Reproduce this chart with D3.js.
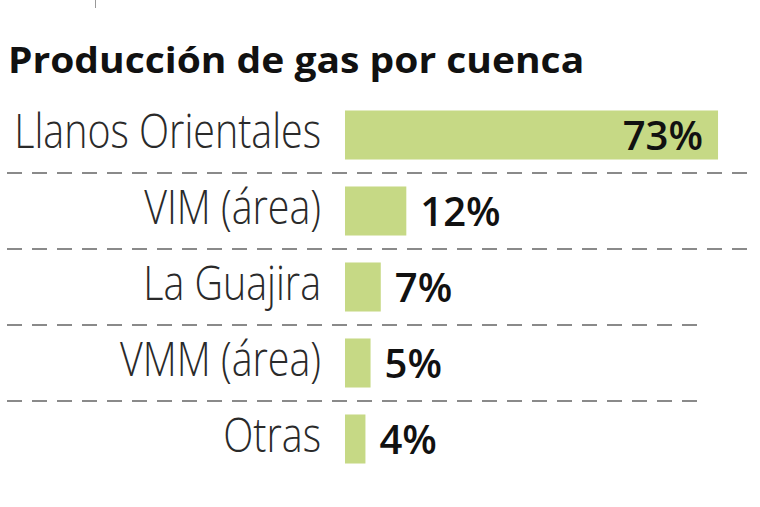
<!DOCTYPE html>
<html>
<head>
<meta charset="utf-8">
<script src="https://cdn.jsdelivr.net/npm/d3@7"></script>
<style>
  body { margin: 0; background: #fff; }
  svg { display: block; }
</style>
</head>
<body>
<svg id="chart" width="760" height="507"></svg>
<script>
const title = 'Producción de gas por cuenca';
const cuencas = ['Llanos Orientales', 'VIM (área)', 'La Guajira', 'VMM (área)', 'Otras'];
const shares = [73, 12, 7, 5, 4];

const svg = d3.select('#chart');
const barLeft = 345;

const x = d3.scaleLinear()
    .domain([0, 100])
    .range([0, 511]);

const y = d3.scaleBand()
    .domain(cuencas)
    .range([97, 477])
    .paddingInner(0.355)
    .paddingOuter(0.355 / 2);

// little tick at the top
svg.append('line')
    .attr('x1', 95.5).attr('x2', 95.5)
    .attr('y1', 0).attr('y2', 8)
    .style('stroke', '#999')
    .style('stroke-width', 1);

svg.append('text')
    .attr('transform', 'translate(8,73) scale(1.115,1)')
    .attr('font-family', 'Open Sans')
    .attr('font-weight', 700)
    .attr('font-size', 35)
    .style('fill', '#111')
    .text(title);

const rows = d3.range(cuencas.length).map(i => ({ name: cuencas[i], value: shares[i] }));

// dashed separators
const step = y.step();
svg.selectAll('.sep')
    .data(rows.slice(0, -1))
    .enter()
    .append('line')
    .attr('class', 'sep')
    .attr('x1', 7)
    .attr('x2', (d, i) => (i < 2 ? 750 : 702))
    .attr('y1', d => y(d.name) + y.bandwidth() + step * 0.355 / 2)
    .attr('y2', d => y(d.name) + y.bandwidth() + step * 0.355 / 2)
    .style('stroke', '#8a8a8a')
    .style('stroke-width', 2)
    .style('stroke-dasharray', '15 10');

const g = svg.selectAll('.row')
    .data(rows)
    .enter()
    .append('g')
    .attr('class', 'row');

g.append('rect')
    .attr('x', barLeft)
    .attr('y', d => y(d.name))
    .attr('width', d => x(d.value))
    .attr('height', y.bandwidth())
    .style('fill', '#c6d985');

// category labels, light and condensed
g.append('text')
    .attr('transform', d => `translate(321,${y(d.name) + y.bandwidth() / 2 + 13}) scale(0.82,1)`)
    .attr('text-anchor', 'end')
    .attr('font-family', 'Open Sans')
    .attr('font-weight', 300)
    .attr('font-size', 48)
    .style('fill', '#2a2a2a')
    .text(d => d.name);

// value labels
g.append('text')
    .attr('x', d => (d.value > 30 ? barLeft + x(d.value) - 15 : barLeft + x(d.value) + 14))
    .attr('y', d => y(d.name) + y.bandwidth() / 2 + 15)
    .attr('text-anchor', d => (d.value > 30 ? 'end' : 'start'))
    .attr('font-family', 'Open Sans')
    .attr('font-weight', 600)
    .attr('font-size', 40)
    .style('fill', '#111')
    .text(d => `${d.value}%`);
</script>
</body>
</html>
